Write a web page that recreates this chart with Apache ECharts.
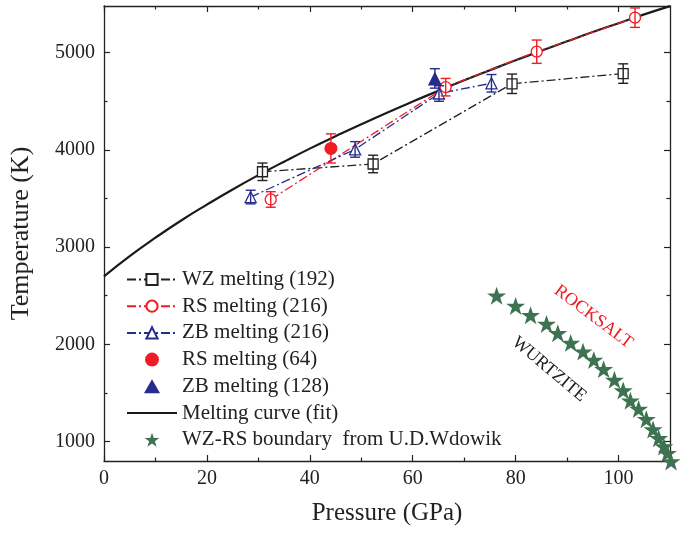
<!DOCTYPE html>
<html>
<head>
<meta charset="utf-8">
<script src="https://cdn.jsdelivr.net/npm/echarts@6/dist/echarts.min.js"></script>
<style>
html, body { margin: 0; padding: 0; background: #fff; }
#chart { width: 683px; height: 534px; }
</style>
</head>
<body>
<div id="chart"></div>
<script>
// WZ melting (192)
var wzP = [30.8, 52.3, 79.3, 100.9];
var wzT = [3775, 3855, 4680, 4785];
var wzErr = [90, 90, 100, 100];
// RS melting (216)
var rsP = [32.4, 66.4, 84.1, 103.2];
var rsT = [3490, 4645, 5010, 5360];
var rsErr = [80, 90, 120, 100];
// ZB melting (216)
var zbP = [28.5, 48.8, 65.1, 75.3];
var zbT = [3515, 4005, 4580, 4685];
var zbErr = [70, 80, 80, 90];
// RS melting (64)
var rs64P = [44.1];
var rs64T = [4015];
var rs64Err = [150];
// ZB melting (128)
var zb128P = [64.3];
var zb128T = [4735];
var zb128Err = [100];
// Melting curve (fit)
var fitP = [0, 5, 10, 15, 20, 25, 30, 35, 40, 45, 50, 55, 60, 65, 70, 75, 80, 85, 90, 95, 100, 105, 110];
var fitT = [2700, 2908, 3097, 3274, 3437, 3593, 3740, 3879, 4013, 4140, 4264, 4383, 4497, 4608, 4716, 4820, 4922, 5020, 5117, 5212, 5303, 5394, 5479];
// WZ-RS boundary from U.D.Wdowik
var bndP = [76.3, 80.0, 82.9, 86.0, 88.2, 90.7, 93.1, 95.2, 97.1, 99.2, 100.9, 102.3, 103.9, 105.4, 106.7, 107.8, 108.8, 109.5, 110.2];
var bndT = [2500, 2395, 2300, 2210, 2115, 2015, 1925, 1840, 1745, 1635, 1525, 1420, 1335, 1230, 1125, 1035, 950, 880, 795];

// ticks
var xMajor = [0, 20, 40, 60, 80, 100];
var xMinor = [10, 30, 50, 70, 90];
var yMajor = [1000, 2000, 3000, 4000, 5000];
var yMinor = [1500, 2500, 3500, 4500];

var RED = '#ee1d25';
var BLUE = '#262c8c';
var BLACK = '#222';
var GREEN = '#3e7351';
var SERIF = "'Liberation Serif', 'Times New Roman', serif";
var STAR = 'path://M50,0 L61.8,35.1 L98.8,35.1 L68.9,57.1 L80.3,92.4 L50,70.6 L19.7,92.4 L31.1,57.1 L1.2,35.1 L38.2,35.1 Z';
var TRI = 'path://M50,0 L100,87 L0,87 Z';

function zip(a, b) {
  return a.map(function (v, i) { return [v, b[i]]; });
}

function errorBars(id, P, T, E, color) {
  var data = P.map(function (p, i) { return [p, T[i] - E[i], T[i] + E[i]]; });
  return {
    type: 'custom',
    name: id,
    data: data,
    z: 5,
    silent: true,
    encode: { x: 0, y: [1, 2] },
    renderItem: function (params, api) {
      var lo = api.coord([api.value(0), api.value(1)]);
      var hi = api.coord([api.value(0), api.value(2)]);
      var w = 5;
      var st = { stroke: color, lineWidth: 1.4 };
      return {
        type: 'group',
        children: [
          { type: 'line', shape: { x1: lo[0], y1: lo[1], x2: hi[0], y2: hi[1] }, style: st },
          { type: 'line', shape: { x1: lo[0] - w, y1: lo[1], x2: lo[0] + w, y2: lo[1] }, style: st },
          { type: 'line', shape: { x1: hi[0] - w, y1: hi[1], x2: hi[0] + w, y2: hi[1] }, style: st }
        ]
      };
    }
  };
}

function plain(v) { return String(v); }

function xAx(pos, ticks, len, main) {
  return {
    type: 'value', position: pos, min: 0, max: 110,
    name: main && pos === 'bottom' ? 'Pressure (GPa)' : '',
    nameLocation: 'middle', nameGap: 40,
    nameTextStyle: { fontFamily: SERIF, fontSize: 25, color: BLACK },
    axisLine: { show: main, onZero: false, lineStyle: { color: BLACK, width: 1.3 } },
    axisTick: { show: true, inside: true, length: len, customValues: ticks, lineStyle: { color: BLACK, width: 1.2 } },
    axisLabel: { show: main && pos === 'bottom', customValues: ticks, formatter: plain, margin: 8, fontFamily: SERIF, fontSize: 20, color: BLACK },
    splitLine: { show: false }
  };
}

function yAx(pos, ticks, len, main) {
  return {
    type: 'value', position: pos, min: 800, max: 5480,
    name: main && pos === 'left' ? 'Temperature (K)' : '',
    nameLocation: 'middle', nameGap: 70,
    nameTextStyle: { fontFamily: SERIF, fontSize: 26, color: BLACK },
    axisLine: { show: main, onZero: false, lineStyle: { color: BLACK, width: 1.3 } },
    axisTick: { show: true, inside: true, length: len, customValues: ticks, lineStyle: { color: BLACK, width: 1.2 } },
    axisLabel: { show: main && pos === 'left', customValues: ticks, formatter: plain, margin: 9, fontFamily: SERIF, fontSize: 20, color: BLACK },
    splitLine: { show: false }
  };
}

var chart = echarts.init(document.getElementById('chart'));

var option = {
  animation: false,
  backgroundColor: '#fff',
  grid: { left: 103, right: 13, top: 6, bottom: 73 },
  xAxis: [
    xAx('bottom', xMajor, 6, true),
    xAx('bottom', xMinor, 3.5, false),
    xAx('top', xMajor, 6, true),
    xAx('top', xMinor, 3.5, false)
  ],
  yAxis: [
    yAx('left', yMajor, 6, true),
    yAx('left', yMinor, 3.5, false),
    yAx('right', yMajor, 6, true),
    yAx('right', yMinor, 3.5, false)
  ],
  legend: {
    orient: 'vertical',
    left: 126,
    top: 269,
    padding: 0,
    itemWidth: 50,
    itemHeight: 14,
    itemGap: 5.7,
    selectedMode: false,
    symbolKeepAspect: true,
    textStyle: { fontFamily: SERIF, fontSize: 21, color: BLACK, lineHeight: 21 },
    data: [
      'WZ melting (192)',
      'RS melting (216)',
      'ZB melting (216)',
      { name: 'RS melting (64)', icon: 'circle' },
      { name: 'ZB melting (128)', icon: TRI },
      { name: 'Melting curve (fit)', itemStyle: { opacity: 0 } },
      { name: 'WZ-RS boundary  from U.D.Wdowik', icon: STAR }
    ]
  },
  series: [
    {
      name: 'Melting curve (fit)', type: 'line', data: zip(fitP, fitT),
      smooth: true, symbol: 'none', z: 3,
      itemStyle: { color: BLACK },
      lineStyle: { color: '#1a1a1a', width: 2.2 }
    },
    {
      name: 'WZ melting (192)', type: 'line', data: zip(wzP, wzT),
      symbol: 'rect', symbolSize: 10, z: 4,
      itemStyle: { color: '#fff', borderColor: BLACK, borderWidth: 1.3 },
      lineStyle: { color: BLACK, width: 1.3, type: [9, 3, 2, 3] }
    },
    {
      name: 'RS melting (216)', type: 'line', data: zip(rsP, rsT),
      symbol: 'circle', symbolSize: 11, z: 4,
      itemStyle: { color: '#fff', borderColor: RED, borderWidth: 1.3 },
      lineStyle: { color: RED, width: 1.3, type: [9, 3, 2, 3] }
    },
    {
      name: 'ZB melting (216)', type: 'line', data: zip(zbP, zbT),
      symbol: 'triangle', symbolSize: 11, z: 4,
      itemStyle: { color: '#fff', borderColor: BLUE, borderWidth: 1.3 },
      lineStyle: { color: BLUE, width: 1.3, type: [9, 3, 2, 3] }
    },
    {
      name: 'RS melting (64)', type: 'scatter', data: zip(rs64P, rs64T),
      symbol: 'circle', symbolSize: 13, z: 4,
      itemStyle: { color: RED, opacity: 1 }
    },
    {
      name: 'ZB melting (128)', type: 'scatter', data: zip(zb128P, zb128T),
      symbol: 'triangle', symbolSize: 14, z: 4,
      itemStyle: { color: BLUE, opacity: 1 }
    },
    {
      name: 'WZ-RS boundary  from U.D.Wdowik', type: 'scatter', data: zip(bndP, bndT),
      symbol: STAR, symbolSize: 19, symbolKeepAspect: true, clip: false, z: 4,
      itemStyle: { color: GREEN, opacity: 1 }
    },
    errorBars('err-wz', wzP, wzT, wzErr, BLACK),
    errorBars('err-rs', rsP, rsT, rsErr, RED),
    errorBars('err-zb', zbP, zbT, zbErr, BLUE),
    errorBars('err-rs64', rs64P, rs64T, rs64Err, RED),
    errorBars('err-zb128', zb128P, zb128T, zb128Err, BLUE),
    {
      name: 'phase labels', type: 'scatter', symbolSize: 0, silent: true, z: 6,
      itemStyle: { opacity: 1 },
      label: { show: true, position: 'inside', fontFamily: SERIF, fontSize: 18, opacity: 1 },
      data: [
        { value: [95.1, 2284], label: { formatter: 'ROCKSALT', color: RED, rotate: -37 } },
        { value: [86.5, 1744], label: { formatter: 'WURTZITE', color: BLACK, rotate: -40 } }
      ]
    }
  ]
};

chart.setOption(option);
</script>
</body>
</html>
